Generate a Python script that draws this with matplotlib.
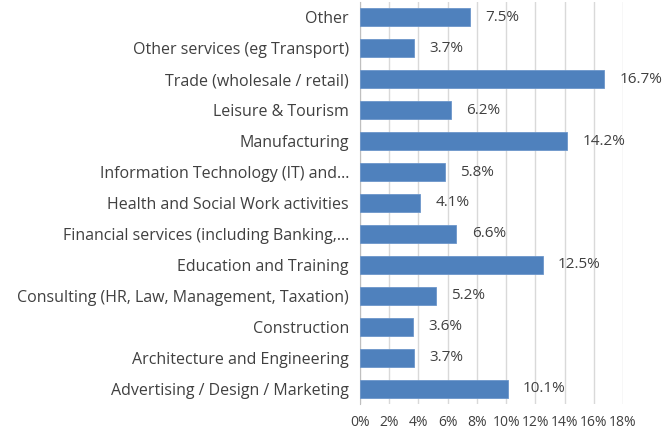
import matplotlib
matplotlib.use("Agg")
import matplotlib.pyplot as plt
from matplotlib.ticker import FuncFormatter

plt.rcParams['font.family'] = ['Open Sans', 'DejaVu Sans']

# bottom to top, as drawn
sectors = [
    "Advertising / Design / Marketing",
    "Architecture and Engineering",
    "Construction",
    "Consulting (HR, Law, Management, Taxation)",
    "Education and Training",
    "Financial services (including Banking,\u2026",
    "Health and Social Work activities",
    "Information Technology (IT) and\u2026",
    "Manufacturing",
    "Leisure & Tourism",
    "Trade (wholesale / retail)",
    "Other services (eg Transport)",
    "Other",
]
shares = [10.1, 3.7, 3.6, 5.2, 12.5, 6.6, 4.1, 5.8, 14.2, 6.2, 16.7, 3.7, 7.5]
xticks = [0, 2, 4, 6, 8, 10, 12, 14, 16, 18]

text_col = "#404040"

fig = plt.figure(figsize=(6.7, 4.29), dpi=100)
ax = fig.add_axes([360 / 670, 25 / 429, 263 / 670, 402 / 429])

y = range(len(sectors))
ax.barh(y, shares, height=0.58, color="#4F81BD", edgecolor="#6C96CB", linewidth=0.6, zorder=3)

for yi, v in zip(y, shares):
    ax.annotate(f"{v:.1f}%", (v, yi), xytext=(11, 0), textcoords="offset points",
                va="center", ha="left", fontsize=11, color=text_col)

ax.set_xlim(0, 18)
ax.set_ylim(-0.5, len(sectors) - 0.5)
ax.set_xticks(xticks)
ax.xaxis.set_major_formatter(FuncFormatter(lambda v, p: f"{v:.0f}%"))
ax.set_yticks(list(y))
ax.set_yticklabels(sectors)

ax.grid(axis="x", color="#D9D9D9", linewidth=1, zorder=0)
for s in ["top", "right", "bottom"]:
    ax.spines[s].set_visible(False)
ax.spines["left"].set_color("#BFBFBF")
ax.tick_params(axis="y", length=0, pad=8, labelsize=11.5, labelcolor=text_col)
ax.tick_params(axis="x", length=0, pad=8, labelsize=10, labelcolor=text_col)

fig.savefig("out.png", dpi=100)
